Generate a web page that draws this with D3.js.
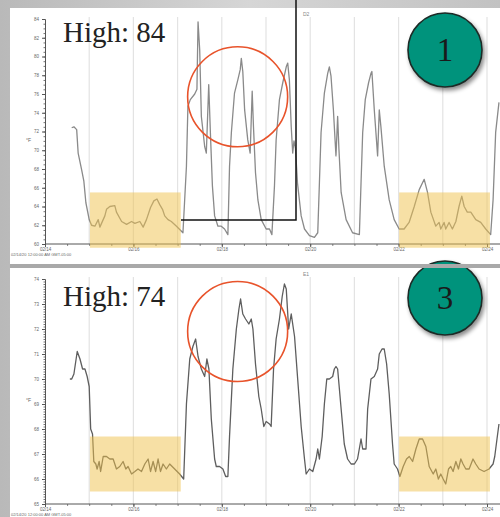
<!DOCTYPE html>
<html>
<head>
<meta charset="utf-8">
<script src="https://cdn.jsdelivr.net/npm/d3@7"></script>
<style>
  body { margin: 0; background: #c4c4c4; }
  svg { display: block; }
</style>
</head>
<body>
<div id="chart"></div>
<script>
// hours since 02/14/20 00:00 and temperature (°F)
var hoursD2 = [14.5, 15.7, 17.2, 18.0, 19.9, 21.1, 22.2, 24.0, 25.3, 27.1, 28.9, 29.8, 32.5, 33.4, 35.2, 37.9, 38.8, 41.6, 44.3, 47.0,
    48.8, 51.5, 53.3, 55.1, 57.3, 59.1, 60.8, 62.3, 63.8, 65.0, 66.8, 68.6, 71.4, 74.9, 76.8, 77.6, 78.9, 81.3, 82.5, 83.1,
    84.0, 84.9, 86.7, 87.6, 88.9, 89.8, 90.9, 92.1, 93.9, 95.7, 97.5, 99.3, 100.2, 101.2, 102.9, 104.7, 106.0, 106.6, 107.4, 108.4,
    110.1, 111.4, 112.5, 113.2, 114.3, 115.6, 117.4, 120.1, 121.9, 123.2, 124.6, 125.5, 127.3, 129.1, 131.0, 131.8, 132.7, 133.7, 134.5, 135.2,
    136.0, 137.1, 139.1, 140.9, 143.6, 146.3, 148.1, 149.0, 149.9, 151.7, 153.5, 154.4, 155.3, 156.6, 157.5, 158.0, 158.9, 159.6, 160.8, 163.5,
    167.0, 170.7, 171.6, 172.5, 173.9, 175.7, 177.0, 177.5, 178.8, 180.6, 181.5, 182.4, 184.2, 186.9, 189.6, 192.3, 195.0, 197.7, 200.5, 203.2,
    205.9, 207.7, 209.5, 212.2, 214.0, 214.9, 216.7, 217.6, 219.4, 221.2, 223.1, 224.8, 226.3, 227.6, 229.3, 231.2, 233.9, 236.6, 239.3, 242.0,
    243.3, 244.7, 246.5];
var tempD2 = [72.4, 72.5, 72.2, 69.7, 67.9, 66.7, 64.4, 62.6, 62.0, 61.9, 62.6, 61.8, 63.0, 63.7, 64.0, 64.1, 63.4, 62.4, 62.1, 62.4,
    62.2, 62.4, 61.8, 62.6, 63.9, 64.6, 64.8, 64.2, 63.7, 63.0, 62.6, 62.4, 61.9, 61.2, 68.3, 74.7, 75.4, 76.0, 76.5, 83.7,
    80.7, 73.6, 70.4, 69.7, 77.0, 71.9, 66.2, 63.0, 61.9, 61.9, 61.6, 61.0, 68.3, 71.9, 76.1, 77.5, 78.6, 79.8, 78.4, 74.3,
    71.1, 69.7, 76.3, 72.5, 67.6, 64.7, 62.6, 61.6, 61.6, 61.0, 66.2, 71.1, 75.4, 77.2, 78.9, 79.3, 77.5, 72.5, 69.7, 71.0,
    70.2, 66.5, 63.0, 61.6, 60.9, 60.7, 61.2, 66.5, 71.9, 76.1, 78.2, 78.9, 77.9, 74.3, 71.1, 69.4, 73.6, 70.1, 65.5, 62.6,
    61.2, 61.0, 66.5, 71.9, 75.4, 77.2, 78.2, 78.4, 74.3, 69.4, 74.3, 72.5, 68.3, 64.7, 62.6, 61.6, 61.6, 62.3, 64.0, 65.8,
    66.9, 65.5, 63.4, 61.9, 62.3, 61.6, 62.3, 61.6, 62.3, 61.6, 62.4, 64.0, 65.1, 64.0, 63.4, 63.4, 62.6, 62.3, 61.6, 61.0,
    64.7, 71.9, 75.1];

var hoursE1 = [13.5, 14.5, 15.7, 17.5, 19.0, 20.4, 21.7, 22.9, 24.0, 24.8, 25.8, 26.5, 27.6, 28.3, 29.4, 30.2, 31.6, 33.4, 35.2, 37.0,
    38.8, 40.6, 42.4, 43.9, 45.1, 47.0, 48.8, 50.5, 52.4, 54.2, 56.0, 57.3, 58.7, 60.1, 61.4, 62.7, 64.1, 65.9, 67.7, 70.4,
    73.1, 75.3, 76.8, 78.6, 80.3, 81.8, 83.1, 84.9, 86.7, 87.9, 89.0, 90.3, 92.1, 93.0, 94.8, 96.6, 98.1, 99.3, 100.2, 102.0,
    103.9, 105.3, 106.2, 107.4, 108.9, 110.7, 112.0, 112.9, 114.3, 116.1, 117.4, 118.8, 120.1, 121.9, 122.8, 124.1, 125.5, 127.3, 128.8, 130.0,
    131.0, 132.3, 133.7, 135.5, 137.2, 139.1, 140.9, 141.8, 143.6, 145.4, 147.2, 148.1, 149.0, 150.5, 151.7, 153.0, 154.4, 156.2, 157.1, 158.0,
    158.9, 160.8, 162.5, 164.3, 166.2, 168.0, 169.7, 171.6, 172.5, 174.3, 175.2, 177.0, 178.8, 180.6, 181.5, 183.0, 184.2, 185.5, 186.9, 188.7,
    189.6, 191.4, 192.7, 194.5, 196.3, 197.8, 199.6, 201.4, 203.2, 205.0, 206.8, 208.6, 210.8, 212.2, 213.6, 214.9, 216.2, 217.6, 219.1, 220.3,
    221.6, 223.1, 224.5, 225.8, 227.0, 228.5, 230.3, 232.4, 233.9, 235.7, 238.4, 241.1, 243.3, 244.2, 245.6, 246.5];
var tempE1 = [70.0, 70.0, 70.2, 71.1, 70.8, 70.4, 70.4, 70.1, 69.7, 68.0, 67.8, 66.7, 66.6, 66.4, 66.7, 66.3, 66.9, 66.9, 66.8, 66.8,
    66.4, 66.5, 66.7, 66.4, 66.5, 66.2, 66.3, 66.4, 66.3, 66.6, 66.8, 66.3, 66.7, 66.3, 66.8, 66.3, 66.6, 66.4, 66.6, 66.4,
    66.2, 66.0, 69.0, 70.8, 71.3, 71.6, 70.9, 70.4, 70.1, 70.8, 70.4, 68.4, 66.8, 66.5, 66.5, 66.4, 66.1, 66.1, 67.7, 70.4,
    72.0, 72.8, 73.2, 72.6, 72.4, 72.2, 72.4, 72.0, 70.6, 69.3, 68.8, 68.1, 68.3, 68.2, 68.1, 70.4, 71.6, 72.4, 73.3, 73.8,
    73.6, 72.0, 72.6, 71.7, 70.0, 68.1, 66.8, 66.2, 66.4, 66.3, 66.8, 67.2, 66.8, 67.7, 69.0, 70.0, 70.0, 70.1, 70.4, 70.5,
    70.4, 68.8, 67.4, 66.8, 66.6, 66.6, 66.8, 67.6, 67.2, 67.2, 68.8, 70.0, 70.1, 70.4, 71.0, 71.2, 71.2, 70.6, 69.4, 67.4,
    66.6, 66.4, 66.1, 66.5, 66.8, 66.9, 66.7, 67.2, 67.6, 67.6, 67.3, 66.5, 66.2, 66.4, 66.0, 66.2, 66.0, 65.8, 66.4, 66.5,
    66.3, 66.7, 66.4, 66.8, 66.6, 66.4, 66.4, 66.8, 66.6, 66.4, 66.3, 66.4, 66.6, 66.9, 67.7, 68.2];

var yTicksD2 = [60, 62, 64, 66, 68, 70, 72, 74, 76, 78, 80, 82, 84];
var yTicksE1 = [65, 66, 67, 68, 69, 70, 71, 72, 73, 74];
var xTickHours = [0, 48, 96, 144, 192, 240];
var highs = ["High: 84", "High: 74"];
var badges = ["1", "3"];
var sensorNames = ["D2", "E1"];
// highlighted stretches, in hours
var calmSpans = [[24.4, 73.7], [192.3, 241.6]];

var width = 500, height = 517;
var t0 = Date.UTC(2020, 1, 14);
function toDate(h) { return new Date(t0 + h * 3600e3); }

var svg = d3.select("#chart").append("svg")
    .attr("width", width)
    .attr("height", height);

var defs = svg.append("defs");
var bg = defs.append("linearGradient").attr("id", "bg").attr("x1", 0).attr("x2", 1);
bg.append("stop").attr("offset", "0").attr("stop-color", "#b9b9b9");
bg.append("stop").attr("offset", "0.5").attr("stop-color", "#d6d6d6");
bg.append("stop").attr("offset", "1").attr("stop-color", "#c2c2c2");
defs.append("filter").attr("id", "shadow")
    .attr("x", "-30%").attr("y", "-30%").attr("width", "160%").attr("height", "160%")
    .append("feDropShadow")
    .attr("dx", 2).attr("dy", 3).attr("stdDeviation", 2)
    .attr("flood-color", "#000").attr("flood-opacity", 0.45);

svg.append("rect").attr("width", width).attr("height", height).attr("fill", "url(#bg)");

var x = d3.scaleUtc()
    .domain([toDate(0), toDate(240)])
    .range([45, 487]);

var panels = [
    { name: sensorNames[0], hours: hoursD2, temps: tempD2, ticks: yTicksD2, minor: 0.5,
      y: d3.scaleLinear().domain([60, 84]).range([244, 19]), top: 8, bottom: 264,
      color: "#8a8a8a", high: highs[0], badge: badges[0], band: [65.5, 59.6], ring: [104.6, 75.7] },
    { name: sensorNames[1], hours: hoursE1, temps: tempE1, ticks: yTicksE1, minor: 0.1,
      y: d3.scaleLinear().domain([65, 74]).range([504, 279]), top: 268, bottom: 517,
      color: "#5e5e5e", high: highs[1], badge: badges[1], band: [67.7, 65.5], ring: [104.6, 71.9] }
];

panels.forEach(function (p) {
    var g = svg.append("g");
    var y = p.y;
    var y0 = y.range()[0], y1 = y.range()[1];

    g.append("rect")
        .attr("x", 10).attr("y", p.top)
        .attr("width", width - 10).attr("height", p.bottom - p.top)
        .attr("fill", "#fff");

    // day gridlines
    g.append("g").selectAll("line")
        .data(d3.utcDay.range(toDate(24), toDate(256)))
        .join("line")
        .attr("x1", function (d) { return x(d); })
        .attr("x2", function (d) { return x(d); })
        .attr("y1", y1 - 2).attr("y2", y0)
        .attr("stroke", "#e3e3e3").attr("stroke-width", 1.2);

    // trace
    var pts = p.hours.map(function (h, i) { return [toDate(h), p.temps[i]]; });
    g.append("path")
        .datum(pts)
        .attr("fill", "none")
        .attr("stroke", p.color)
        .attr("stroke-width", 1.3)
        .attr("stroke-linejoin", "round")
        .attr("d", d3.line()
            .x(function (d) { return x(d[0]); })
            .y(function (d) { return y(d[1]); }));

    // y axis, minor then major
    g.append("g")
        .attr("transform", "translate(45,0)")
        .call(d3.axisLeft(y).tickValues(d3.range(y.domain()[0], y.domain()[1] + 1e-6, p.minor)).tickSize(1.5).tickFormat(""))
        .call(function (a) { a.select(".domain").remove(); a.selectAll("line").attr("stroke", "#777"); });
    g.append("g")
        .attr("transform", "translate(45,0)")
        .call(d3.axisLeft(y).tickValues(p.ticks).tickSize(3).tickPadding(3))
        .call(function (a) {
            a.select(".domain").attr("stroke", "#555");
            a.selectAll("line").attr("stroke", "#555");
            a.selectAll("text").attr("font-size", 4.5).attr("fill", "#666").attr("font-family", "Arial, sans-serif");
        });

    // x axis
    g.append("g")
        .attr("transform", "translate(0," + y0 + ")")
        .call(d3.axisBottom(x).ticks(d3.utcHour.every(12)).tickSize(2).tickFormat(""))
        .call(function (a) { a.select(".domain").remove(); a.selectAll("line").attr("stroke", "#888"); });
    g.append("g")
        .attr("transform", "translate(0," + y0 + ")")
        .call(d3.axisBottom(x).tickValues(xTickHours.map(toDate)).tickSize(3).tickPadding(1).tickFormat(d3.utcFormat("%m/%d")))
        .call(function (a) {
            a.select(".domain").attr("d", "M45,0H500").attr("stroke", "#555");
            a.selectAll("line").attr("stroke", "#555");
            a.selectAll("text").attr("font-size", 4.5).attr("fill", "#666").attr("font-family", "Arial, sans-serif");
        });

    g.append("text")
        .attr("x", 26).attr("y", (y0 + y1) / 2 + 10)
        .attr("font-size", 5).attr("fill", "#666").attr("font-family", "Arial, sans-serif")
        .text("°F");
    g.append("text")
        .attr("x", 303).attr("y", y1 - 3)
        .attr("font-size", 5).attr("fill", "#888").attr("font-family", "Arial, sans-serif")
        .text(p.name);
    g.append("text")
        .attr("x", 11).attr("y", y0 + 12)
        .attr("font-size", 4).attr("fill", "#666").attr("font-family", "Arial, sans-serif")
        .text("02/14/20 12:00:00 AM GMT-05:00");

    // highlighted calm stretches
    g.append("g").selectAll("rect")
        .data(calmSpans)
        .join("rect")
        .attr("x", function (d) { return x(toDate(d[0])); })
        .attr("width", function (d) { return x(toDate(d[1])) - x(toDate(d[0])); })
        .attr("y", y(p.band[0]))
        .attr("height", y(p.band[1]) - y(p.band[0]))
        .attr("fill", "#f0c24c").attr("fill-opacity", 0.5);

    // peak ring
    g.append("circle")
        .attr("cx", x(toDate(p.ring[0]))).attr("cy", y(p.ring[1]))
        .attr("r", 50)
        .attr("fill", "none").attr("stroke", "#e8532b").attr("stroke-width", 1.6);

    g.append("text")
        .attr("x", 63).attr("y", p.top + 34 + (p.top > 100 ? 4 : 0))
        .attr("font-family", "Liberation Serif, Times New Roman, serif")
        .attr("font-size", 29).attr("fill", "#222")
        .text(p.high);

    var cy = p.top + (p.top > 100 ? 30 : 42);
    g.append("circle")
        .attr("cx", 445).attr("cy", cy).attr("r", 37)
        .attr("fill", "#00937b").attr("stroke", "#1d2b27").attr("stroke-width", 1.6)
        .attr("filter", "url(#shadow)");
    g.append("text")
        .attr("x", 445).attr("y", cy + 11)
        .attr("text-anchor", "middle")
        .attr("font-family", "Liberation Serif, Times New Roman, serif")
        .attr("font-size", 33).attr("fill", "#1a1a1a")
        .text(p.badge);
});

// callout box edge across the top panel
svg.append("path")
    .attr("d", "M181,220H296V0")
    .attr("fill", "none").attr("stroke", "#111").attr("stroke-width", 1.5);

// band between panels
svg.append("rect").attr("x", 10).attr("y", 264).attr("width", 490).attr("height", 4).attr("fill", "#a9a9a9");
</script>
</body>
</html>
